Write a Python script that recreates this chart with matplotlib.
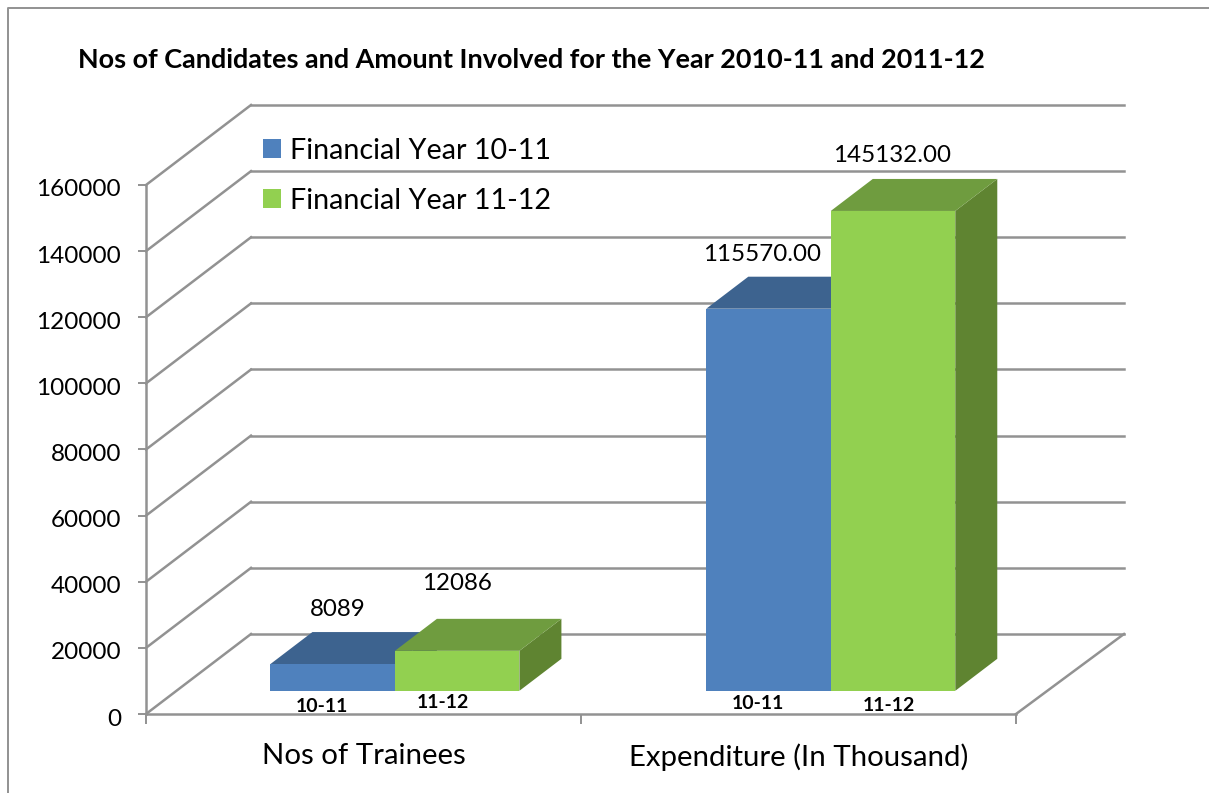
"""
3D style clustered columns, drawn by hand on a normal axes
"""
import matplotlib
matplotlib.use('Agg')
import matplotlib.pyplot as plt
from matplotlib.lines import Line2D
from matplotlib.patches import Patch, Polygon
from matplotlib.transforms import Affine2D

categories = ['Nos of Trainees', 'Expenditure (In Thousand)']
series_names = ['Financial Year 10-11', 'Financial Year 11-12']
fy_1011 = [8089, 115570]
fy_1112 = [12086, 145132]
label_1011 = ['8089', '115570.00']
label_1112 = ['12086', '145132.00']
bar_tags = ['10-11', '11-12']
y_ticks = [0, 20000, 40000, 60000, 80000, 100000, 120000, 140000, 160000]

W, H = 1209, 793
DEPTH_X, DEPTH_Y = 105, 80
BACK_EXTRA = 3
GRID = '#929292'
FONT = 'Lato'

plt.rcParams['font.family'] = FONT


def depth(d):
    # shift a data position towards the back wall, in display pixels
    return ax.transData + Affine2D().translate(d * DEPTH_X, d * DEPTH_Y)


def column(x, width, value, front, top, side):
    # bar stands 0.29 into the floor and is 0.4 deep
    d0 = 0.29
    ax.add_patch(Polygon([(x + width, 0), (x + width, value), (x + width + 0.4 * DEPTH_X * PX, value + 0.4 * DEPTH_Y * PY),
                          (x + width + 0.4 * DEPTH_X * PX, 0.4 * DEPTH_Y * PY)],
                         transform=depth(d0), fc=side, ec='none', zorder=3, clip_on=False))
    ax.add_patch(Polygon([(x, value), (x + width, value), (x + width + 0.4 * DEPTH_X * PX, value + 0.4 * DEPTH_Y * PY),
                          (x + 0.4 * DEPTH_X * PX, value + 0.4 * DEPTH_Y * PY)],
                         transform=depth(d0), fc=top, ec='none', zorder=3, clip_on=False))
    ax.add_patch(Polygon([(x, 0), (x + width, 0), (x + width, value), (x, value)],
                         transform=depth(d0), fc=front, ec='none', zorder=4, clip_on=False))


fig = plt.figure(figsize=(W / 100, H / 100), dpi=100, facecolor='white')
ax = fig.add_axes([146 / W, 1 - 714 / H, (1016 - 146) / W, (714 - 185) / H])
ax.set_xlim(0, 2)
ax.set_ylim(0, 160000)
ax.patch.set_visible(False)
PX = 2 / (1016 - 146)
PY = 160000 / (714 - 185)

for s in ['top', 'right']:
    ax.spines[s].set_visible(False)
for s in ['left', 'bottom']:
    ax.spines[s].set_color(GRID)
    ax.spines[s].set_linewidth(1.8)

# walls and floor
back_end = 2 + (DEPTH_X + BACK_EXTRA) * PX
for v in y_ticks:
    ax.plot([0, DEPTH_X * PX], [v, v + DEPTH_Y * PY], color=GRID, lw=1.8, clip_on=False, zorder=1)
    ax.plot([DEPTH_X * PX, back_end], [v + DEPTH_Y * PY] * 2, color=GRID, lw=1.8, clip_on=False, zorder=1)
ax.plot([2, back_end], [0, DEPTH_Y * PY], color=GRID, lw=1.8, clip_on=False, zorder=1)

ax.set_yticks(y_ticks)
ax.tick_params(axis='y', length=6, width=1.4, color=GRID, labelsize=17.5, pad=12, labelcolor='black')
for lab in ax.get_yticklabels():
    lab.set_transform(lab.get_transform() + Affine2D().translate(0, -3))
ax.set_xticks([0, 1, 2])
ax.set_xticklabels([])
ax.tick_params(axis='x', length=7, width=1.4, color=GRID)
ax.set_xticks([0.5, 1.5], minor=True)
ax.set_xticklabels(categories, minor=True, fontsize=21.2)
ax.tick_params(axis='x', which='minor', length=0, pad=21)

bar_w = 124.5 * PX
starts = [0.216, 1.218]
label_dx = [[5, 0], [-6, -1]]
label_dy = [[55, 67], [54, 55]]
tag_dy = [[16, 12], [13, 15]]
tag_dx = [[-11, -14], [-11, -4]]

for i, x in enumerate(starts):
    column(x, bar_w, fy_1011[i], '#4f81bd', '#3d638f', '#33557d')
    column(x + bar_w, bar_w, fy_1112[i], '#92d050', '#6f9c3f', '#5f8431')
    for j, (vals, labs) in enumerate([(fy_1011, label_1011), (fy_1112, label_1112)]):
        ax.annotate(labs[i], xy=(x + bar_w * (j + 0.5), vals[i]), xycoords=depth(0.29),
                    xytext=(label_dx[i][j] * 0.72, label_dy[i][j] * 0.72), textcoords='offset points',
                    ha='center', va='center', fontsize=17.4, zorder=6)
        ax.annotate(bar_tags[j], xy=(x + bar_w * (j + 0.5), 0), xycoords=depth(0.29),
                    xytext=(tag_dx[i][j] * 0.72, -tag_dy[i][j] * 0.72), textcoords='offset points',
                    ha='center', va='center', fontsize=14, fontweight='bold', zorder=6)

handles = [Patch(fc='#4f81bd', ec='none'), Patch(fc='#92d050', ec='none')]
ax.legend(handles, series_names, loc='upper left', bbox_to_anchor=(240 / W, 1 - 115 / H),
          bbox_transform=fig.transFigure, frameon=False, fontsize=20.7, handlelength=0.63,
          handleheight=0.63, handletextpad=0.31, labelspacing=0.83, borderpad=0.3)

fig.text(78 / W, 1 - 60 / H, 'Nos of Candidates and Amount Involved for the Year 2010-11 and 2011-12',
         fontsize=19.45, fontweight='bold', ha='left', va='center')
fig.add_artist(Line2D([8 / W, 8 / W, 1], [0, 1 - 8 / H, 1 - 8 / H], color=GRID, lw=1.4))

fig.savefig('out.png', dpi=100)
